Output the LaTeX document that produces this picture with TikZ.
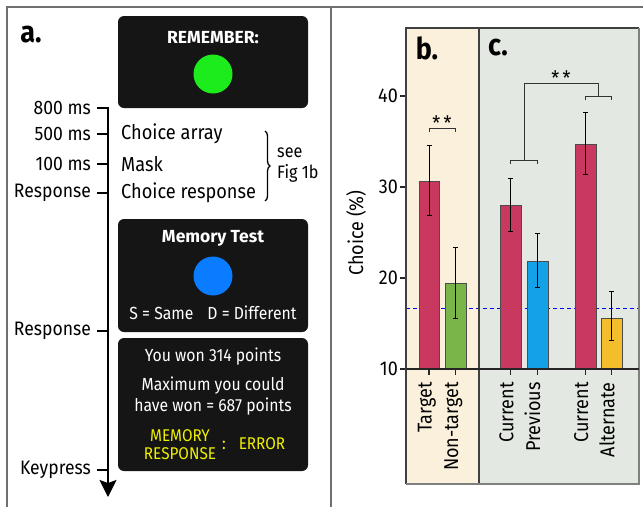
\documentclass[tikz,border=0pt]{standalone}
\usepackage{fontspec}
\setmainfont{Fira Sans}[FakeStretch=0.9]
\newfontfamily\titlefont{Fira Sans}[FakeStretch=1.0]
\usetikzlibrary{decorations.pathreplacing,arrows.meta}
\definecolor{framegray}{HTML}{707070}
\definecolor{screen}{HTML}{151515}
\definecolor{cuegreen}{HTML}{1CEB1C}
\definecolor{cueblue}{HTML}{0A7CFF}
\definecolor{fbyellow}{HTML}{F0F000}
\definecolor{panelb}{HTML}{FAF0DC}
\definecolor{panelc}{HTML}{E3E9E2}
\definecolor{barred}{HTML}{C8385F}
\definecolor{bargreen}{HTML}{7AB54A}
\definecolor{barblue}{HTML}{14A2E6}
\definecolor{baryellow}{HTML}{F4BD2B}
\tikzset{
  screenbox/.style={fill=screen, rounded corners=6pt, inner sep=0pt, minimum width=190pt},
  scrtext/.style={text=white, font=\fontsize{17.5}{20}\selectfont, inner sep=0pt},
  scrtitle/.style={text=white, font=\titlefont\fontsize{17.5}{20}\selectfont\bfseries, inner sep=0pt},
  fbtext/.style={text=fbyellow, font=\fontsize{17}{18}\selectfont, inner sep=0pt, align=center},
  timelabel/.style={anchor=east, font=\fontsize{19.5}{20}\selectfont, inner sep=0pt},
  eventlabel/.style={anchor=west, font=\fontsize{20.2}{20}\selectfont, inner sep=0pt},
  panellabel/.style={font=\fontsize{30}{30}\selectfont\bfseries, inner sep=0pt},
  axislabel/.style={font=\fontsize{20}{22}\selectfont, inner sep=0pt},
  bar/.style={draw=black!70, line width=0.8pt},
  errbar/.style={line width=0.8pt, black},
  sigbar/.style={line width=1pt, black!80},
  tick/.style={line width=1.2pt, black!85},
  stars/.style={font=\fontsize{20}{20}\selectfont, inner sep=0pt},
}
\begin{document}
\begin{tikzpicture}[x=1pt, y=-1pt]
\useasboundingbox (0,0) rectangle (643,507);

% outer frame and divider
\draw[framegray, line width=1.4pt] (7,507) -- (7,7) -- (643,7);
\draw[framegray, line width=1.2pt] (331,7) -- (331,507);

% ---------------- panel a ----------------
\node[panellabel, anchor=center] (la) at (31,35) {a.};

% screens
\node[screenbox, minimum height=92pt] (remember) at (213,62) {};
\node[scrtitle] (remtitle) at (213,38) {REMEMBER:};
\node[circle, fill=cuegreen, minimum size=39pt, inner sep=0pt] (greendot) at (213,74) {};

\node[screenbox, minimum height=113pt] (memtest) at (213,275.5) {};
\node[scrtitle] (memtitle) at (213,238) {Memory Test};
\node[circle, fill=cueblue, minimum size=39pt, inner sep=0pt] (bluedot) at (213,276) {};
\node[scrtext] (keys) at (213,313) {S = Same\hspace{14pt}D = Different};

\node[screenbox, minimum height=133pt] (feedback) at (213,404.5) {};
\node[scrtext] (won) at (213,357) {You won 314 points};
\node[scrtext, align=center, font=\fontsize{17.5}{21}\selectfont] (maxwon) at (213,396) {Maximum you could\\have won = 687 points};
\node[fbtext] (memresp) at (180,445) {MEMORY\\RESPONSE};
\node[fbtext] (colon) at (224,445) {:};
\node[fbtext] (err) at (262,444) {ERROR};

% timeline
\coordinate (t800) at (108,108);
\coordinate (t500) at (108,134);
\coordinate (t100) at (108,164);
\coordinate (tresp) at (108,193);
\coordinate (tresp2) at (108,331);
\coordinate (tkey) at (108,470);
\coordinate (tend) at (108,497);
\draw[line width=2pt, -{Stealth[length=17pt, width=17pt, inset=3pt]}] (97,108) -- (t800) -- (tend);
\foreach \c in {t500,t100,tresp,tresp2,tkey}
  \draw[line width=2pt] (\c) -- ++(-11,0);

\node[timelabel] (l800) at (91,108) {800 ms};
\node[timelabel] (l500) at (91,134) {500 ms};
\node[timelabel] (l100) at (91,164) {100 ms};
\node[timelabel] (lresp) at (91,193) {Response};
\node[timelabel] (lresp2) at (91,331) {Response};
\node[timelabel] (lkey) at (91,470) {Keypress};

\node[eventlabel] (ev1) at (121,134) {Choice array};
\node[eventlabel] (ev2) at (121,164) {Mask};
\node[eventlabel] (ev3) at (121,193) {Choice response};

\draw[line width=1.3pt, decorate, decoration={brace, amplitude=5pt}] (265,131) -- (265,201);
\node[anchor=west, font=\fontsize{18}{21}\selectfont, inner sep=0pt, align=left] (seefig) at (277,165) {see\\Fig 1b};

% ---------------- panels b and c ----------------
\fill[panelb] (406,28) rectangle (479,484);
\fill[panelc] (479,28) rectangle (639,484);

\node[panellabel] (lb) at (427,48) {b.};
\node[panellabel] (lc) at (498,48) {c.};

% data scope: value v sits at 369 - 9.1 (v - 10) from the top
\begin{scope}[x=1pt, y=9.1pt, yshift=-460pt]
  % chance level
  \draw[blue, dashed, line width=1pt, dash pattern=on 4pt off 3pt] (406,16.67) -- (639,16.67);
  % bars
  \draw[bar, fill=barred]    (419,10) rectangle (439,30.66);
  \draw[bar, fill=bargreen]  (445,10) rectangle (466,19.45);
  \draw[bar, fill=barred]    (500.5,10) rectangle (521,27.97);
  \draw[bar, fill=barblue]   (527,10) rectangle (548,21.84);
  \draw[bar, fill=barred]    (575,10) rectangle (596,34.65);
  \draw[bar, fill=baryellow] (601.5,10) rectangle (622,15.6);
  % error bars
  \foreach \xc/\lo/\hi in {429/26.9/34.6, 455.5/15.6/23.4, 510.7/25.16/30.99, 537.5/19.0/24.87, 585.5/31.43/38.2, 611.7/13.1/18.5}{
    \draw[errbar] (\xc,\lo) -- (\xc,\hi);
    \draw[errbar] (\xc-2.5,\lo) -- (\xc+2.5,\lo);
    \draw[errbar] (\xc-2.5,\hi) -- (\xc+2.5,\hi);
  }
  % y axis ticks and labels
  \foreach \v in {10,20,30,40}{
    \draw[tick] (400,\v) -- (406,\v);
    \node[axislabel, anchor=east] (ytick\v) at (398,\v) {\v};
  }
\end{scope}

% panel borders and axis
\draw[black!75, line width=1.2pt] (479,28) -- (479,484);
\draw[black!75, line width=1.2pt] (406,484) -- (406,28) -- (639,28);
\draw[black!50, line width=1.2pt] (639,28) -- (639,484) -- (406,484);
\draw[black!85, line width=1.4pt] (406,369) -- (639,369);

\node[axislabel, rotate=90] (ylab) at (356,233) {Choice (\%)};

% x ticks and labels
\foreach \xc/\name/\txt in {429/xt1/Target, 455.5/xt2/Non-target, 510.7/xt3/Current, 537.5/xt4/Previous, 585.5/xt5/Current, 611.7/xt6/Alternate}{
  \draw[tick] (\xc,369) -- (\xc,375);
  \node[axislabel, rotate=90, anchor=mid east] (\name) at (\xc,382) {\txt};
}

% significance brackets
\draw[sigbar] (429,132) -- (429,128) -- (455.5,128) -- (455.5,132);
\node[stars] (sigb) at (442,123) {*\,*};
\draw[sigbar] (510.5,164) -- (510.5,160) -- (537.5,160) -- (537.5,164);
\draw[sigbar] (585,100) -- (585,96) -- (611.5,96) -- (611.5,100);
\draw[sigbar] (524,160) -- (524,83) -- (598,83) -- (598,96);
\node[stars] (sigc) at (561,78) {*\,*};
\end{tikzpicture}
\end{document}
